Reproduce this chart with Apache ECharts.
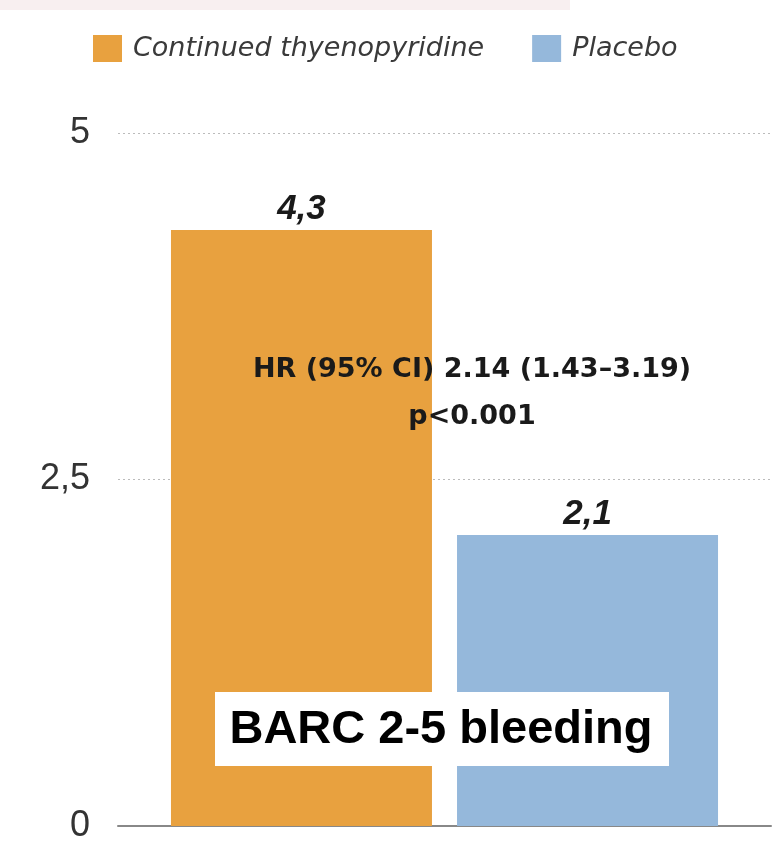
<!DOCTYPE html>
<html>
<head>
<meta charset="utf-8">
<script src="https://cdn.jsdelivr.net/npm/echarts@6/dist/echarts.min.js"></script>
<style>
  html, body { margin: 0; padding: 0; background: #fff; }
  #chart { width: 777px; height: 844px; }
</style>
</head>
<body>
<div id="chart"></div>
<script>
  // data
  const categories = ['BARC 2-5 bleeding'];
  const seriesNames = ['Continued thyenopyridine', 'Placebo'];
  const thyenoValues = [4.3];
  const placeboValues = [2.1];
  const colors = ['#e8a13f', '#95b8db'];

  const comma = v => String(v).replace('.', ',');

  const valueLabel = {
    show: true,
    position: 'top',
    distance: 3,
    formatter: p => comma(p.value),
    fontFamily: 'Liberation Sans',
    fontStyle: 'italic',
    fontWeight: 'bold',
    fontSize: 35,
    color: '#1a1a1a'
  };

  let myChart = echarts.init(document.getElementById('chart'));
  let option = {
    animation: false,
    legend: {
      top: 30,
      left: 88,
      itemWidth: 29,
      itemHeight: 27,
      itemGap: 48,
      icon: 'rect',
      textStyle: {
        fontFamily: 'DejaVu Sans',
        fontStyle: 'italic',
        fontSize: 27,
        color: '#3a3a3a',
        padding: [0, 0, 0, 6]
      },
      data: seriesNames
    },
    grid: {
      left: 118,
      right: 6,
      top: 133,
      bottom: 14,
      containLabel: false
    },
    xAxis: {
      type: 'category',
      data: categories,
      axisLine: { lineStyle: { color: '#888', width: 2 } },
      axisTick: { show: false },
      axisLabel: { show: false }
    },
    yAxis: {
      type: 'value',
      min: 0,
      max: 5,
      interval: 2.5,
      axisLine: { show: false },
      axisTick: { show: false },
      axisLabel: {
        formatter: comma,
        margin: 28,
        fontFamily: 'Liberation Sans',
        fontSize: 36,
        color: '#333'
      },
      splitLine: {
        lineStyle: { color: '#bbb', type: [2, 3], width: 1 }
      }
    },
    series: [
      {
        name: seriesNames[0],
        type: 'bar',
        data: thyenoValues,
        barWidth: 261,
        barGap: '9.6%',
        itemStyle: { color: colors[0] },
        label: valueLabel
      },
      {
        name: seriesNames[1],
        type: 'bar',
        data: placeboValues,
        barWidth: 261,
        itemStyle: { color: colors[1] },
        label: valueLabel
      }
    ],
    graphic: [
      {
        type: 'rect',
        shape: { x: 0, y: 0, width: 570, height: 10 },
        style: { fill: 'rgba(200,120,130,0.12)' },
        z: 100
      },
      {
        type: 'text',
        style: {
          text: 'HR (95% CI) 2.14 (1.43\u20133.19)\np<0.001',
          x: 472,
          y: 393,
          textAlign: 'center',
          textVerticalAlign: 'middle',
          font: 'bold 27px "DejaVu Sans"',
          lineHeight: 47,
          fill: '#1a1a1a'
        },
        z: 100
      },
      {
        type: 'rect',
        shape: { x: 215, y: 692, width: 454, height: 74 },
        style: { fill: '#fff' },
        z: 100
      },
      {
        type: 'text',
        style: {
          text: 'BARC 2-5 bleeding',
          x: 441,
          y: 730,
          textAlign: 'center',
          textVerticalAlign: 'middle',
          font: 'bold 47px "Liberation Sans", Arial',
          fill: '#000'
        },
        z: 101
      }
    ]
  };
  myChart.setOption(option);
</script>
</body>
</html>
